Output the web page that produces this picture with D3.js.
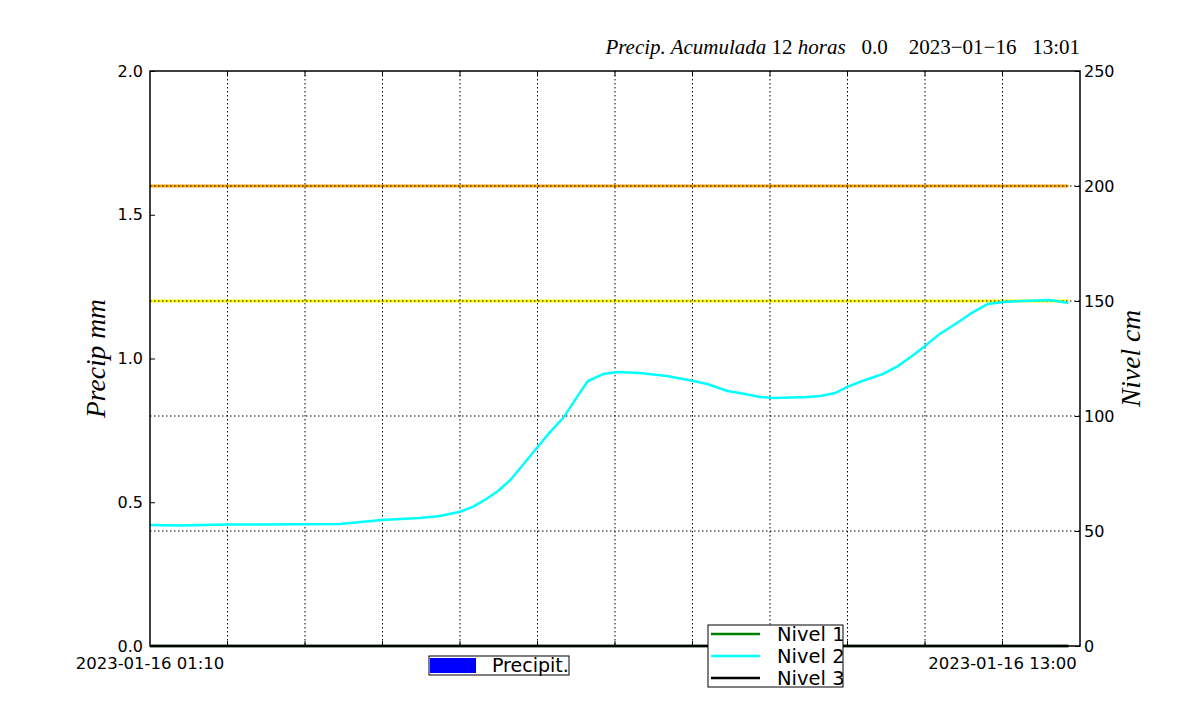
<!DOCTYPE html>
<html>
<head>
<meta charset="utf-8">
<script src="https://cdn.jsdelivr.net/npm/d3@7"></script>
<style>
  body { margin: 0; background: #fff; }
</style>
</head>
<body>
<script>
// Horas desde el inicio (01:10) y nivel en cm
const horas = [0, 0.39, 0.99, 2.45, 2.99, 3.48, 3.74, 4.0, 4.17, 4.32, 4.49, 4.65, 4.81, 4.99,
  5.16, 5.33, 5.51, 5.65, 5.85, 6.03, 6.32, 6.67, 7.01, 7.19, 7.45, 7.61, 7.87, 8.04, 8.48,
  8.65, 8.84, 8.99, 9.19, 9.46, 9.65, 9.85, 10.0, 10.19, 10.45, 10.62, 10.81, 11.01, 11.26,
  11.61, 11.85];
const nivel2 = [52.6, 52.4, 52.8, 53.0, 54.8, 55.7, 56.5, 58.4, 60.6, 63.5, 67.4, 72.2, 78.7,
  86.1, 93.0, 99.1, 108.3, 115.2, 118.3, 119.1, 118.7, 117.4, 115.2, 113.9, 110.9, 110.0,
  108.3, 107.8, 108.3, 108.7, 110.0, 112.6, 115.2, 118.3, 121.7, 126.5, 130.4, 135.7, 141.3,
  145.2, 148.7, 149.6, 150.0, 150.4, 149.1];
const nivel1 = horas.map(() => 0);
const nivel3 = horas.map(() => 0);
const precip = horas.map(() => 0);

const umbrales = [{valor: 200, color: "#ffa500"}, {valor: 150, color: "#ffff00"}];
const leftTicks = [0, 0.5, 1.0, 1.5, 2.0];
const rightTicks = [0, 50, 100, 150, 200, 250];
const xGrid = d3.range(1, 12);
const xLabels = [{h: 0, text: "2023-01-16 01:10"}, {h: 11, text: "2023-01-16 13:00"}];

const width = 1200, height = 719;
const margin = {top: 71, right: 120, bottom: 73, left: 150};
const graphWidth = width - margin.left - margin.right;
const graphHeight = height - margin.top - margin.bottom;
const sans = "'DejaVu Sans', sans-serif";
const serif = "'Liberation Serif', 'DejaVu Serif', serif";

const svg = d3.select("body").append("svg")
    .attr("width", width).attr("height", height)
    .style("font-family", sans);
const g = svg.append("g")
    .attr("transform", "translate(" + margin.left + "," + margin.top + ")");

const x = d3.scaleLinear().domain([0, 12]).range([0, graphWidth]);
const yLeft = d3.scaleLinear().domain([0, 2]).range([graphHeight, 0]);
const yRight = d3.scaleLinear().domain([0, 250]).range([graphHeight, 0]);

// precipitación (barras, todas en cero)
g.selectAll("rect.precip").data(precip).enter().append("rect")
    .attr("class", "precip")
    .attr("x", (d, i) => x(horas[i]))
    .attr("y", d => yLeft(d))
    .attr("width", 2)
    .attr("height", d => graphHeight - yLeft(d))
    .attr("fill", "blue");

// umbrales
g.selectAll("line.umbral").data(umbrales).enter().append("line")
    .attr("x1", x(0)).attr("x2", x(horas[horas.length - 1]))
    .attr("y1", d => yRight(d.valor)).attr("y2", d => yRight(d.valor))
    .attr("stroke", d => d.color).attr("stroke-width", 3);

// grid
g.selectAll("line.gx").data(xGrid).enter().append("line")
    .attr("x1", d => x(d)).attr("x2", d => x(d))
    .attr("y1", 0).attr("y2", graphHeight)
    .attr("stroke", "#000").attr("stroke-width", 1)
    .attr("stroke-dasharray", "1.5,2.5");
g.selectAll("line.gy").data(rightTicks.slice(1, -1)).enter().append("line")
    .attr("x1", 0).attr("x2", graphWidth)
    .attr("y1", d => yRight(d)).attr("y2", d => yRight(d))
    .attr("stroke", "#000").attr("stroke-width", 1)
    .attr("stroke-dasharray", "1.5,2.5");

// niveles
const line = d3.line().x((d, i) => x(horas[i])).y(d => yRight(d));
g.append("path").datum(nivel1).attr("d", line).attr("fill", "none")
    .attr("stroke", "green").attr("stroke-width", 2.5);
g.append("path").datum(nivel2).attr("d", line).attr("fill", "none")
    .attr("stroke", "cyan").attr("stroke-width", 2.5);
g.append("path").datum(nivel3).attr("d", line).attr("fill", "none")
    .attr("stroke", "black").attr("stroke-width", 2.5);

// marco
g.append("rect").attr("width", graphWidth).attr("height", graphHeight)
    .attr("fill", "none").attr("stroke", "#000").attr("stroke-width", 1.5);

// ejes
const leftAxis = d3.axisLeft(yLeft).tickValues(leftTicks).tickFormat(d3.format(".1f"))
    .tickSizeInner(-5).tickSizeOuter(0).tickPadding(7);
const rightAxis = d3.axisRight(yRight).tickValues(rightTicks)
    .tickSizeInner(-5).tickSizeOuter(0).tickPadding(4);
const styleAxis = sel => {
  sel.attr("font-family", null).attr("font-size", null);
  sel.select(".domain").remove();
  sel.selectAll("text").style("font-size", "16px").style("font-family", sans).attr("fill", "#000");
  sel.selectAll("line").attr("stroke", "#000");
};
g.append("g").call(leftAxis).call(styleAxis);
g.append("g").attr("transform", "translate(" + graphWidth + ",0)").call(rightAxis).call(styleAxis);
g.selectAll("line.tx").data(xGrid).enter().append("line")
    .attr("x1", d => x(d)).attr("x2", d => x(d)).attr("y1", graphHeight).attr("y2", graphHeight - 5)
    .attr("stroke", "#000");
g.selectAll("line.txt").data(xGrid).enter().append("line")
    .attr("x1", d => x(d)).attr("x2", d => x(d)).attr("y1", 0).attr("y2", 5)
    .attr("stroke", "#000");

g.selectAll("text.xl").data(xLabels).enter().append("text")
    .attr("x", d => x(d.h)).attr("y", graphHeight + 23)
    .attr("text-anchor", "middle").style("font-size", "16.5px").style("font-family", sans)
    .text(d => d.text);

// títulos de ejes
svg.append("text")
    .attr("transform", "translate(105," + (margin.top + graphHeight / 2) + ") rotate(-90)")
    .attr("text-anchor", "middle").style("font-family", serif).style("font-style", "italic")
    .style("font-size", "27.5px").text("Precip mm");
svg.append("text")
    .attr("transform", "translate(1140," + (margin.top + graphHeight / 2) + ") rotate(-90)")
    .attr("text-anchor", "middle").style("font-family", serif).style("font-style", "italic")
    .style("font-size", "27.5px").text("Nivel cm");

// título
const title = svg.append("text").attr("x", margin.left + graphWidth).attr("y", 54)
    .attr("text-anchor", "end").style("font-family", serif).style("font-size", "21px")
    .style("white-space", "pre");
title.append("tspan").style("font-style", "italic").text("Precip. Acumulada ");
title.append("tspan").text("12 ");
title.append("tspan").style("font-style", "italic").text("horas");
title.append("tspan").text("   0.0    2023\u221201\u221216   13:01");

// leyenda precipitación
const lp = svg.append("g").attr("transform", "translate(429,656)");
lp.append("rect").attr("width", 140).attr("height", 19).attr("fill", "#fff")
    .attr("stroke", "#000").attr("stroke-width", 1);
lp.append("rect").attr("x", 1).attr("y", 2).attr("width", 46).attr("height", 15).attr("fill", "blue");
lp.append("text").attr("x", 63).attr("y", 16).style("font-size", "19px").text("Precipit.");

// leyenda niveles
const niveles = [{nombre: "Nivel 1", color: "green"}, {nombre: "Nivel 2", color: "cyan"},
  {nombre: "Nivel 3", color: "black"}];
const ln = svg.append("g").attr("transform", "translate(708,625)");
ln.append("rect").attr("width", 135).attr("height", 62).attr("fill", "#fff")
    .attr("stroke", "#000").attr("stroke-width", 1);
const clip = svg.append("clipPath").attr("id", "lnclip");
clip.append("rect").attr("width", 135).attr("height", 62);
const items = ln.append("g").attr("clip-path", "url(#lnclip)");
niveles.forEach((n, i) => {
  items.append("line").attr("x1", 3).attr("x2", 52).attr("y1", 9 + i * 22).attr("y2", 9 + i * 22)
      .attr("stroke", n.color).attr("stroke-width", 2.5);
  items.append("text").attr("x", 69).attr("y", 16 + i * 22).style("font-size", "19.5px").text(n.nombre);
});
</script>
</body>
</html>
